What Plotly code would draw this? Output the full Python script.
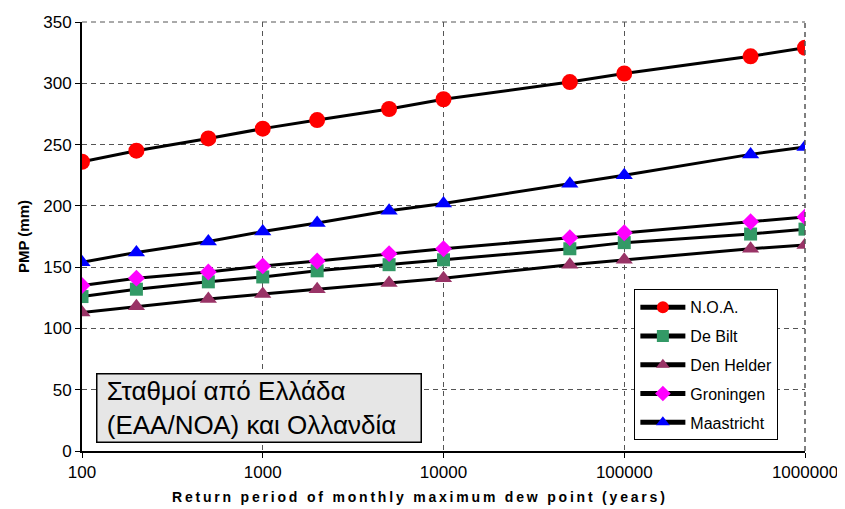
import plotly.graph_objects as go

# return periods (years)
periods = [100, 200, 500, 1000, 2000, 5000, 10000, 50000, 100000, 500000, 1000000]

# PMP (mm) per station
noa = [236, 245, 255, 263, 270, 279, 287, 301, 308, 322, 329]
de_bilt = [126, 132, 138, 142, 147, 152, 156, 165, 170, 177, 181]
den_helder = [113, 118, 124, 128, 132, 137, 141, 152, 156, 165, 168]
groningen = [135, 141, 146, 151, 155, 161, 165, 174, 178, 187, 191]
maastricht = [154, 162, 171, 179, 186, 196, 202, 218, 225, 242, 248]

y_ticks = [0, 50, 100, 150, 200, 250, 300, 350]
x_ticks = [100, 1000, 10000, 100000, 1000000]

series = [
    ("N.O.A.", noa, "circle", "#FF0000", 16),
    ("De Bilt", de_bilt, "square", "#339966", 13),
    ("Den Helder", den_helder, "triangle-up", "#993366", 15),
    ("Groningen", groningen, "diamond", "#FF00FF", 13),
    ("Maastricht", maastricht, "triangle-up", "#0000FF", 15),
]

fig = go.Figure()
for name, vals, sym, col, size in series:
    fig.add_trace(go.Scatter(
        x=periods, y=vals, name=name, legendgroup=name, mode="lines+markers",
        line=dict(color="black", width=3),
        marker=dict(symbol=sym, color=col, size=size),
    ))

grid = dict(showgrid=True, gridcolor="#555555", gridwidth=1, griddash="5px,4px")

# spaced-out bold axis title, like the original (it sits a bit left of centre)
x_title = "Return period of monthly maximum dew point (years)"
x_title_spaced = "\u2009".join(x_title)

# the page body has an 8px margin, so the figure is sized to fit inside it
fig.update_layout(
    width=837, height=501,
    margin=dict(l=74, r=40, t=14, b=58, autoexpand=False),
    paper_bgcolor="white", plot_bgcolor="white",
    font=dict(family="Arial, Liberation Sans", size=17, color="black"),
    xaxis=dict(
        type="log", range=[2, 6], tickvals=x_ticks,
        ticktext=[str(v) for v in x_ticks],
        ticks="outside", ticklen=5, tickcolor="black",
        showline=True, linecolor="black", linewidth=2,
        zeroline=False,
        **grid,
    ),
    yaxis=dict(
        range=[0, 350], tickvals=y_ticks,
        ticks="outside", ticklen=5, tickcolor="black",
        showline=True, linecolor="black", linewidth=2,
        zeroline=False,
        title=dict(text="<b>PMP (mm)</b>", font=dict(size=15), standoff=10),
        **grid,
    ),
    legend=dict(
        x=0.764, y=0.377, xanchor="left", yanchor="top",
        bgcolor="white", bordercolor="black", borderwidth=1,
        font=dict(size=16), tracegroupgap=5,
        itemsizing="constant", itemwidth=45,
    ),
)

# dashed frame on top and right
fig.add_shape(type="line", xref="paper", yref="paper", x0=0, x1=1, y0=1, y1=1,
              line=dict(color="#555555", width=1, dash="5px,4px"))
fig.add_shape(type="line", xref="paper", yref="paper", x0=1, x1=1, y0=0, y1=1,
              line=dict(color="#555555", width=1.5, dash="5px,4px"))

fig.add_annotation(
    xref="paper", yref="paper", x=0.465, y=-0.107, xanchor="center", yanchor="middle",
    text="<b>" + x_title_spaced + "</b>", showarrow=False, font=dict(size=14),
)

fig.add_annotation(
    xref="paper", yref="paper", x=0.019, y=0.019, xanchor="left", yanchor="bottom",
    text="\u00a0Σταθμοί από Ελλάδα<br>\u00a0(ΕΑΑ/ΝΟΑ) και Ολλανδία", align="left",
    showarrow=False, font=dict(size=26),
    width=319, height=63,
    bgcolor="#E6E6E6", bordercolor="black", borderwidth=1.5, borderpad=2,
)

fig.write_html("out.html")
